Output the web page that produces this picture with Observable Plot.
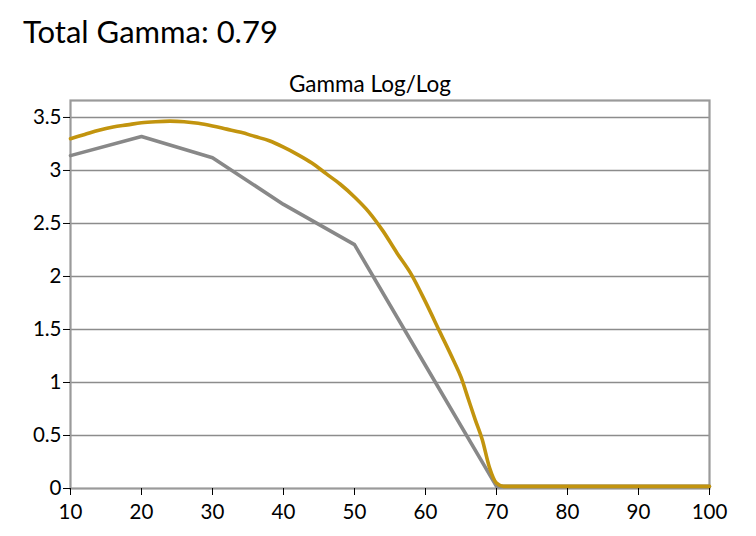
<!DOCTYPE html>
<html>
<head>
<meta charset="utf-8">
<script src="https://cdn.jsdelivr.net/npm/d3@7"></script>
<script src="https://cdn.jsdelivr.net/npm/@observablehq/plot@0.6"></script>
<style>
  html, body { margin: 0; padding: 0; background: #fff; }
  #wrap { width: 756px; height: 536px; position: relative; font-family: Lato, "Open Sans", sans-serif; }
  #header { position: relative; height: 95px; }
  #title { position: absolute; left: 23px; top: 16px; font-size: 31px; line-height: 1; color: #000; white-space: nowrap; }
  #subtitle { position: absolute; left: 289px; top: 73px; font-size: 22.5px; line-height: 1; color: #000; white-space: nowrap; }
</style>
</head>
<body>
<div id="wrap">
  <div id="header">
    <div id="title">Total Gamma: 0.79</div>
    <div id="subtitle">Gamma Log/Log</div>
  </div>
  <div id="chart"></div>
</div>
<script>
const xTicks = [10, 20, 30, 40, 50, 60, 70, 80, 90, 100];
const yTicks = [0, 0.5, 1, 1.5, 2, 2.5, 3, 3.5];
const yTickLabels = ["0", "0.5", "1", "1.5", "2", "2.5", "3", "3.5"];

const grayX = [10, 20, 30, 40, 50, 60, 70, 80, 90, 100];
const grayY = [3.14, 3.32, 3.12, 2.68, 2.30, 1.16, 0.02, 0.02, 0.02, 0.02];

const goldX = [10, 12, 14, 16, 18, 20, 22, 24, 26, 28, 30, 32, 34, 36, 38, 40, 42, 44, 46, 48, 50, 52, 54, 56, 58, 60, 62, 64, 65, 66, 67, 68, 69, 70, 71, 80, 90, 100];
const goldY = [3.30, 3.34, 3.38, 3.41, 3.43, 3.45, 3.46, 3.465, 3.46, 3.445, 3.42, 3.39, 3.36, 3.32, 3.28, 3.22, 3.15, 3.07, 2.97, 2.87, 2.75, 2.61, 2.43, 2.22, 2.02, 1.76, 1.48, 1.20, 1.05, 0.85, 0.65, 0.46, 0.20, 0.05, 0.02, 0.02, 0.02, 0.02];

const grayData = grayX.map((x, i) => ({x, y: grayY[i]}));
const goldData = goldX.map((x, i) => ({x, y: goldY[i]}));

const plot = Plot.plot({
  width: 756,
  height: 441,
  marginLeft: 70,
  marginRight: 47,
  marginTop: 5,
  marginBottom: 48,
  style: { fontFamily: "Lato, 'Open Sans', sans-serif", fontSize: "20.5px", color: "#000", background: "#fff" },
  x: { domain: [10, 100], ticks: xTicks },
  y: { domain: [0, 3.66], ticks: yTicks },
  marks: [
    Plot.ruleY(yTicks.filter(d => d > 0), { stroke: "#8c8c8c", strokeWidth: 1.6 }),
    Plot.frame({ stroke: "#9a9a9a", strokeWidth: 2.2 }),
    Plot.line(grayData, { x: "x", y: "y", stroke: "#888888", strokeWidth: 3.6 }),
    Plot.line(goldData, { x: "x", y: "y", stroke: "#C2940E", strokeWidth: 3.6, curve: "monotone-x" }),
    Plot.axisX({ ticks: xTicks, tickSize: 7, tickPadding: 9, tickFormat: d => String(d), label: null, stroke: "#000" }),
    Plot.axisY({ ticks: yTicks, tickSize: 7, tickPadding: 2, tickFormat: (d, i) => yTickLabels[i], label: null, stroke: "#000" })
  ]
});
document.getElementById("chart").appendChild(plot);
</script>
</body>
</html>
